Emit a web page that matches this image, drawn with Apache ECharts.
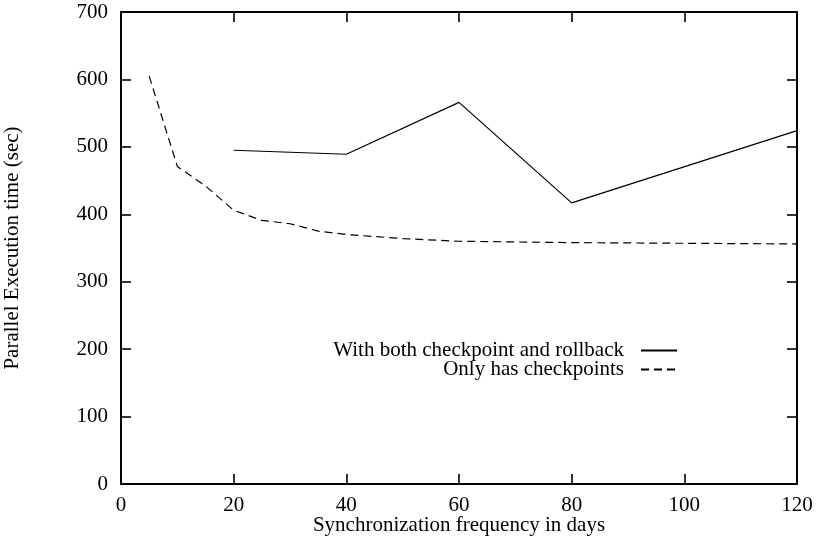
<!DOCTYPE html>
<html><head><meta charset="utf-8">
<script src="https://cdn.jsdelivr.net/npm/echarts@6/dist/echarts.min.js"></script>
<style>html,body{margin:0;padding:0;background:#fff}#c{width:816px;height:539px}</style>
</head><body><div id="c"></div>
<script>
var xRollback = [20, 40, 60, 80, 120];
var yRollback = [495, 489, 566, 417, 524];
var xCheckpoint = [5, 10, 15, 20, 25, 30, 35, 40, 50, 60, 80, 100, 120];
var yCheckpoint = [605, 471, 442, 406, 391, 386, 375, 370, 364, 360, 358, 357, 356];
var nameRollback = 'With both checkpoint and rollback';
var nameCheckpoint = 'Only has checkpoints';
var xTitle = 'Synchronization frequency in days';
var yTitle = 'Parallel Execution time (sec)';

function pairs(xs, ys){ return xs.map(function(x,i){return [x, ys[i]];}); }
var font = 'Liberation Serif';
function axisCommon(){
  return {
    axisLine:{show:true, onZero:false, lineStyle:{color:'#000', width:2}},
    axisTick:{show:true, inside:true, length:10, lineStyle:{color:'#000', width:1.6}},
    splitLine:{show:false}
  };
}
var legendCommon = {
  align:'right', itemWidth:36, itemHeight:14, itemGap:0, padding:0, right:138,
  itemStyle:{opacity:0},
  textStyle:{fontFamily:font, fontSize:21, color:'#000', padding:[0,12,0,0]}
};
var chart = echarts.init(document.getElementById('c'));
chart.setOption({
  animation:false,
  textStyle:{fontFamily:font},
  grid:{left:121, right:19, top:12, bottom:55, containLabel:false, outerBoundsMode:'none'},
  xAxis:[
    Object.assign({type:'value', min:0, max:120, interval:20, position:'bottom',
      name:xTitle, nameLocation:'middle', nameGap:31, nameMoveOverlap:false,
      nameTextStyle:{fontFamily:font, fontSize:21, color:'#000'},
      axisLabel:{fontFamily:font, fontSize:21, color:'#000', margin:11}}, axisCommon()),
    Object.assign({type:'value', min:0, max:120, interval:20, position:'top',
      axisLabel:{show:false}}, axisCommon())
  ],
  yAxis:[
    Object.assign({type:'value', min:0, max:700, interval:100, position:'left',
      name:yTitle, nameLocation:'middle', nameGap:98, nameMoveOverlap:false,
      nameTextStyle:{fontFamily:font, fontSize:21, color:'#000'},
      axisLabel:{fontFamily:font, fontSize:21, color:'#000', margin:13}}, axisCommon()),
    Object.assign({type:'value', min:0, max:700, interval:100, position:'right',
      axisLabel:{show:false}}, axisCommon())
  ],
  legend:[
    Object.assign({data:[nameRollback], top:340}, legendCommon),
    Object.assign({data:[nameCheckpoint], top:359}, legendCommon)
  ],
  series:[
    {name:nameRollback, type:'line', data:pairs(xRollback, yRollback), symbol:'none',
     lineStyle:{color:'#000', width:1.2}, itemStyle:{color:'#000'}},
    {name:nameCheckpoint, type:'line', data:pairs(xCheckpoint, yCheckpoint), symbol:'none',
     lineStyle:{color:'#000', width:1.2, type:[8,5]}, itemStyle:{color:'#000'}}
  ]
});
</script></body></html>
